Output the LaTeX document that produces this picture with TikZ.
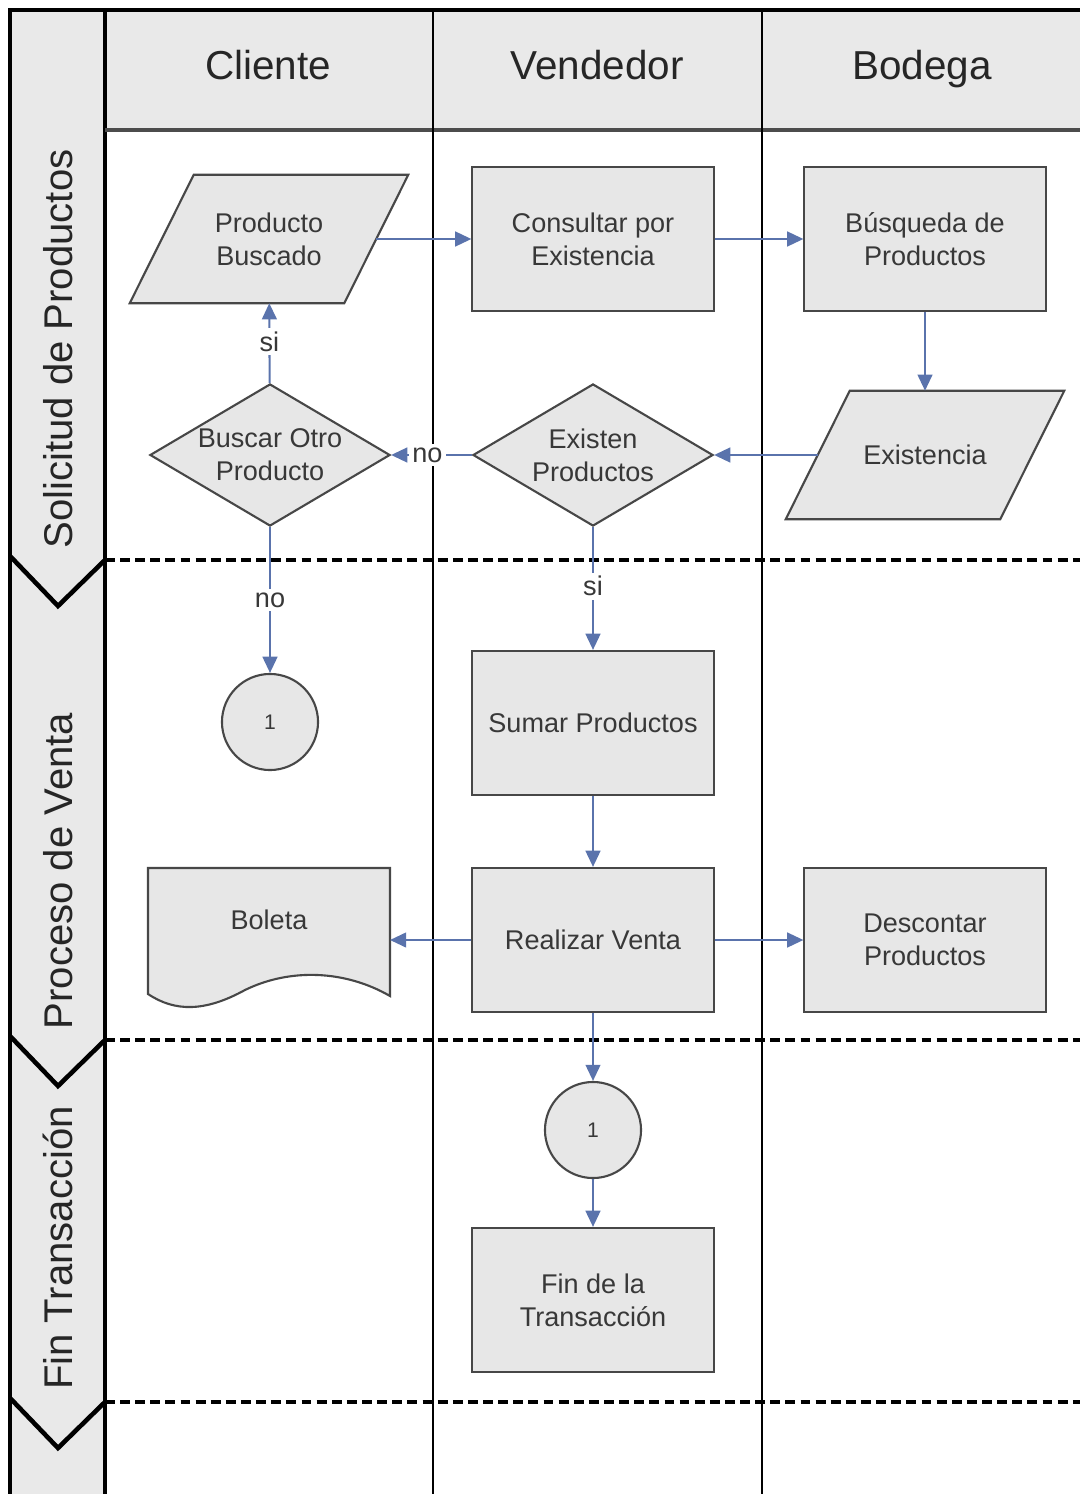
\documentclass[tikz,border=0pt]{standalone}
\usepackage{fontspec}
\setmainfont{Liberation Sans}
\usepackage{tikz}
\usetikzlibrary{shapes.geometric}
\usetikzlibrary{arrows.meta}
\usetikzlibrary{backgrounds}

\definecolor{fondo}{HTML}{E9E9E9}
\definecolor{caja}{HTML}{E7E7E7}
\definecolor{borde}{HTML}{474747}
\definecolor{flecha}{HTML}{5A73AC}
\definecolor{texto}{HTML}{383838}

\begin{document}
\begin{tikzpicture}[x=0.01cm, y=-0.01cm,
        proceso/.style={draw=borde, fill=caja, line width=0.6pt, minimum width=2.41cm, minimum height=1.44cm, inner sep=0pt, align=center, text=texto, font=\fontsize{7.7}{9.4}\selectfont},
        datos/.style={minimum width=2.13cm, minimum height=1.27cm, inner sep=0pt, align=center, text=texto, font=\fontsize{7.7}{9.4}\selectfont},
        decision/.style={diamond, aspect=1.69, draw=borde, fill=caja, line width=0.6pt, minimum width=2.4cm, minimum height=1.42cm, inner sep=0pt, align=center, text=texto, font=\fontsize{7.7}{9.4}\selectfont},
        conector/.style={circle, draw=borde, fill=caja, line width=0.6pt, minimum size=0.96cm, inner sep=0pt, text=texto, font=\fontsize{6}{7}\selectfont},
        flujo/.style={-{Triangle[length=4.6pt,width=4.2pt]}, draw=flecha, fill=flecha, line width=0.6pt},
        etiqueta/.style={fill=white, inner sep=1pt, text=texto, font=\fontsize{7.7}{9}\selectfont},
        carril/.style={anchor=base, text=black!85, font=\fontsize{11.5}{13}\selectfont},
        fase/.style={rotate=90, text=black!85, font=\fontsize{11.4}{13}\selectfont},
        limite/.style={black, line width=1.1pt, dash pattern=on 2.8pt off 1.5pt}]

        \useasboundingbox (0,0) rectangle (1080,1494);

        \fill[fondo] (10,10) rectangle (105,1494);
        \fill[fondo] (105,10) rectangle (1080,130);

        \draw[line width=1pt] (10,1494) -- (10,10) -- (1080,10);
        \draw[line width=1pt] (105,10) -- (105,1494);
        \draw[line width=0.9pt, black!70] (105,130) -- (1080,130);
        \draw[line width=0.6pt] (433,10) -- (433,1494);
        \draw[line width=0.6pt] (762,10) -- (762,1494);

        \foreach \y in {560,1040,1402} {
            \draw[limite] (105,\y) -- (1080,\y);
            \draw[line width=1.3pt, line join=miter] (10,\y-4) -- (58,\y+46) -- (105,\y);
        }

        \node[carril] (cliente) at (268,80) {Cliente};
        \node[carril] (vendedor) at (597,80) {Vendedor};
        \node[carril] (bodega) at (922,80) {Bodega};

        \node[fase] (solicitud) at (58,349) {Solicitud de Productos};
        \node[fase] (venta) at (58,871) {Proceso de Venta};
        \node[fase] (fin) at (58,1248) {Fin Transacción};

        \node[datos] (prod) at (269,239) {Producto\\Buscado};
        \node[proceso] (cons) at (593,239) {Consultar por\\Existencia};
        \node[proceso] (busq) at (925,239) {Búsqueda de\\Productos};
        \node[datos] (exis) at (925,455) {Existencia};
        \node[decision] (hay) at (593,455) {Existen\\Productos};
        \node[decision] (otro) at (270,455) {Buscar Otro\\Producto};
        \node[conector] (uno) at (270,722) {1};
        \node[proceso] (sumar) at (593,723) {Sumar Productos};
        \node[proceso] (realizar) at (593,940) {Realizar Venta};
        \node[proceso] (desc) at (925,940) {Descontar\\Productos};
        \node[conector] (dos) at (593,1130) {1};
        \node[proceso] (final) at (593,1300) {Fin de la\\Transacción};

        \begin{scope}[on background layer]
            \foreach \n in {prod,exis}
                \draw[draw=borde, fill=caja, line width=0.6pt] ([xshift=3.2mm]\n.north west) -- ([xshift=3.2mm]\n.north east)
                    -- ([xshift=-3.2mm]\n.south east) -- ([xshift=-3.2mm]\n.south west) -- cycle;
        \end{scope}

        \draw[draw=borde, fill=caja, line width=0.6pt] (148,868) -- (390,868) -- (390,996)
            .. controls (345,970) and (290,968) .. (245,990)
            .. controls (205,1012) and (175,1012) .. (148,994) -- cycle;
        \node[text=texto, font=\fontsize{7.7}{9.4}\selectfont] (boleta) at (269,920) {Boleta};
        \coordinate (boletaE) at (390,940);

        \draw[flujo] (prod) -- (cons);
        \draw[flujo] (cons) -- (busq);
        \draw[flujo] (busq) -- (exis);
        \draw[flujo] (exis) -- (hay);
        \draw[flujo] (hay) -- node[etiqueta, pos=0.55] {no} (otro);
        \draw[flujo] (otro) -- node[etiqueta, pos=0.52] {si} (prod);
        \draw[flujo] (otro) -- node[etiqueta] {no} (uno);
        \draw[flujo] (hay) -- node[etiqueta, pos=0.48] {si} (sumar);
        \draw[flujo] (sumar) -- (realizar);
        \draw[flujo] (realizar) -- (boletaE);
        \draw[flujo] (realizar) -- (desc);
        \draw[flujo] (realizar) -- (dos);
        \draw[flujo] (dos) -- (final);
    \end{tikzpicture}
\end{document}
